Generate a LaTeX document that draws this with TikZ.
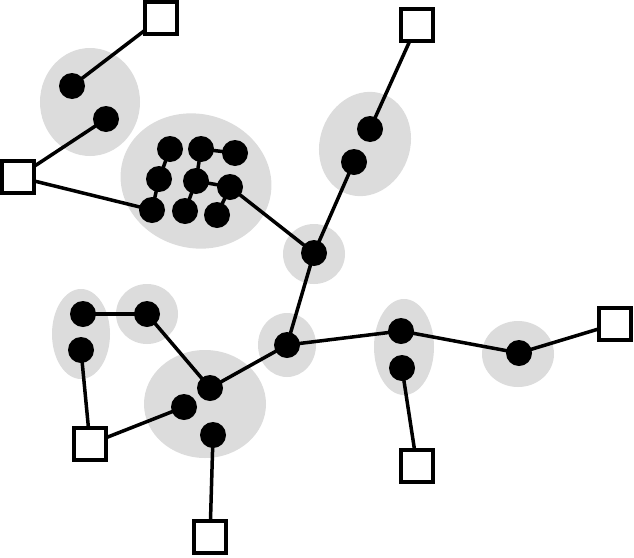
\documentclass[tikz,border=0pt]{standalone}
\usetikzlibrary{shapes.geometric}
\pgfdeclarelayer{bg}
\pgfdeclarelayer{mid}
\pgfsetlayers{bg,mid,main}
\definecolor{blobgray}{gray}{0.863}
\tikzset{
  blob/.style={ellipse, fill=blobgray, draw=none, inner sep=0pt},
  dot/.style={circle, fill=black, draw=none, minimum size=26pt, inner sep=0pt},
  sq/.style={rectangle, fill=white, draw=black, line width=3.8pt, minimum size=32pt, inner sep=0pt},
  link/.style={draw=black, line width=3.5pt}
}
\begin{document}
\begin{tikzpicture}[x=1pt,y=-1pt]
\useasboundingbox (0,0) rectangle (634,557);
% blobs
\begin{pgfonlayer}{bg}
\node[blob, minimum width=100pt, minimum height=108pt] (e1) at (90,102) {};
\node[blob, minimum width=152pt, minimum height=134pt, rotate=-15] (e2) at (196,181) {};
\node[blob, minimum width=90pt, minimum height=106pt, rotate=-20] (e3) at (365,144) {};
\node[blob, minimum width=62pt, minimum height=60pt] (e4) at (314,254) {};
\node[blob, minimum width=58pt, minimum height=64pt] (e5) at (287,345) {};
\node[blob, minimum width=60pt, minimum height=96pt] (e6) at (404,347) {};
\node[blob, minimum width=72pt, minimum height=66pt] (e7) at (518,354) {};
\node[blob, minimum width=58pt, minimum height=90pt] (e8) at (81,334) {};
\node[blob, minimum width=62pt, minimum height=60pt] (e9) at (147,314) {};
\node[blob, minimum width=122pt, minimum height=108pt] (e10) at (205,404) {};
\end{pgfonlayer}
% squares
\node[sq] (s1) at (161,18) {};
\node[sq] (s2) at (18,177) {};
\node[sq] (s3) at (417,25) {};
\node[sq] (s4) at (615,324) {};
\node[sq] (s5) at (417,466) {};
\node[sq] (s6) at (90,444) {};
\node[sq] (s7) at (210,537) {};
% dots
\node[dot] (a1) at (72,86) {};
\node[dot] (a2) at (106,119) {};
\node[dot] (b1) at (170,149) {};
\node[dot] (b2) at (201,149) {};
\node[dot] (b3) at (235,153) {};
\node[dot] (b4) at (159,179) {};
\node[dot] (b5) at (196,181) {};
\node[dot] (b6) at (230,187) {};
\node[dot] (b7) at (152,210) {};
\node[dot] (b8) at (185,211) {};
\node[dot] (b9) at (217,215) {};
\node[dot] (c1) at (370,129) {};
\node[dot] (c2) at (354,162) {};
\node[dot] (j1) at (314,253) {};
\node[dot] (j2) at (287,345) {};
\node[dot] (d1) at (401,331) {};
\node[dot] (d2) at (402,368) {};
\node[dot] (f1) at (519,353) {};
\node[dot] (g1) at (83,314) {};
\node[dot] (g2) at (81,350) {};
\node[dot] (h1) at (147,314) {};
\node[dot] (k1) at (210,388) {};
\node[dot] (k2) at (184,407) {};
\node[dot] (k3) at (213,435) {};
% links
\begin{pgfonlayer}{mid}
\path[link] (s1.center) -- (a1.center);
\path[link] (a2.center) -- (s2.center);
\path[link] (s2.center) -- (b7.center);
\path[link] (b1.center) -- (b4.center);
\path[link] (b4.center) -- (b7.center);
\path[link] (b2.center) -- (b3.center);
\path[link] (b2.center) -- (b5.center);
\path[link] (b5.center) -- (b6.center);
\path[link] (b5.center) -- (b8.center);
\path[link] (b6.center) -- (b9.center);
\path[link] (b6.center) -- (j1.center);
\path[link] (j1.center) -- (c2.center);
\path[link] (c1.center) -- (s3.center);
\path[link] (j1.center) -- (j2.center);
\path[link] (j2.center) -- (d1.center);
\path[link] (d1.center) -- (f1.center);
\path[link] (f1.center) -- (s4.center);
\path[link] (d2.center) -- (s5.center);
\path[link] (j2.center) -- (k1.center);
\path[link] (h1.center) -- (k1.center);
\path[link] (g1.center) -- (h1.center);
\path[link] (g2.center) -- (s6.center);
\path[link] (k2.center) -- (s6.center);
\path[link] (k3.center) -- (s7.center);
\end{pgfonlayer}
\end{tikzpicture}
\end{document}
